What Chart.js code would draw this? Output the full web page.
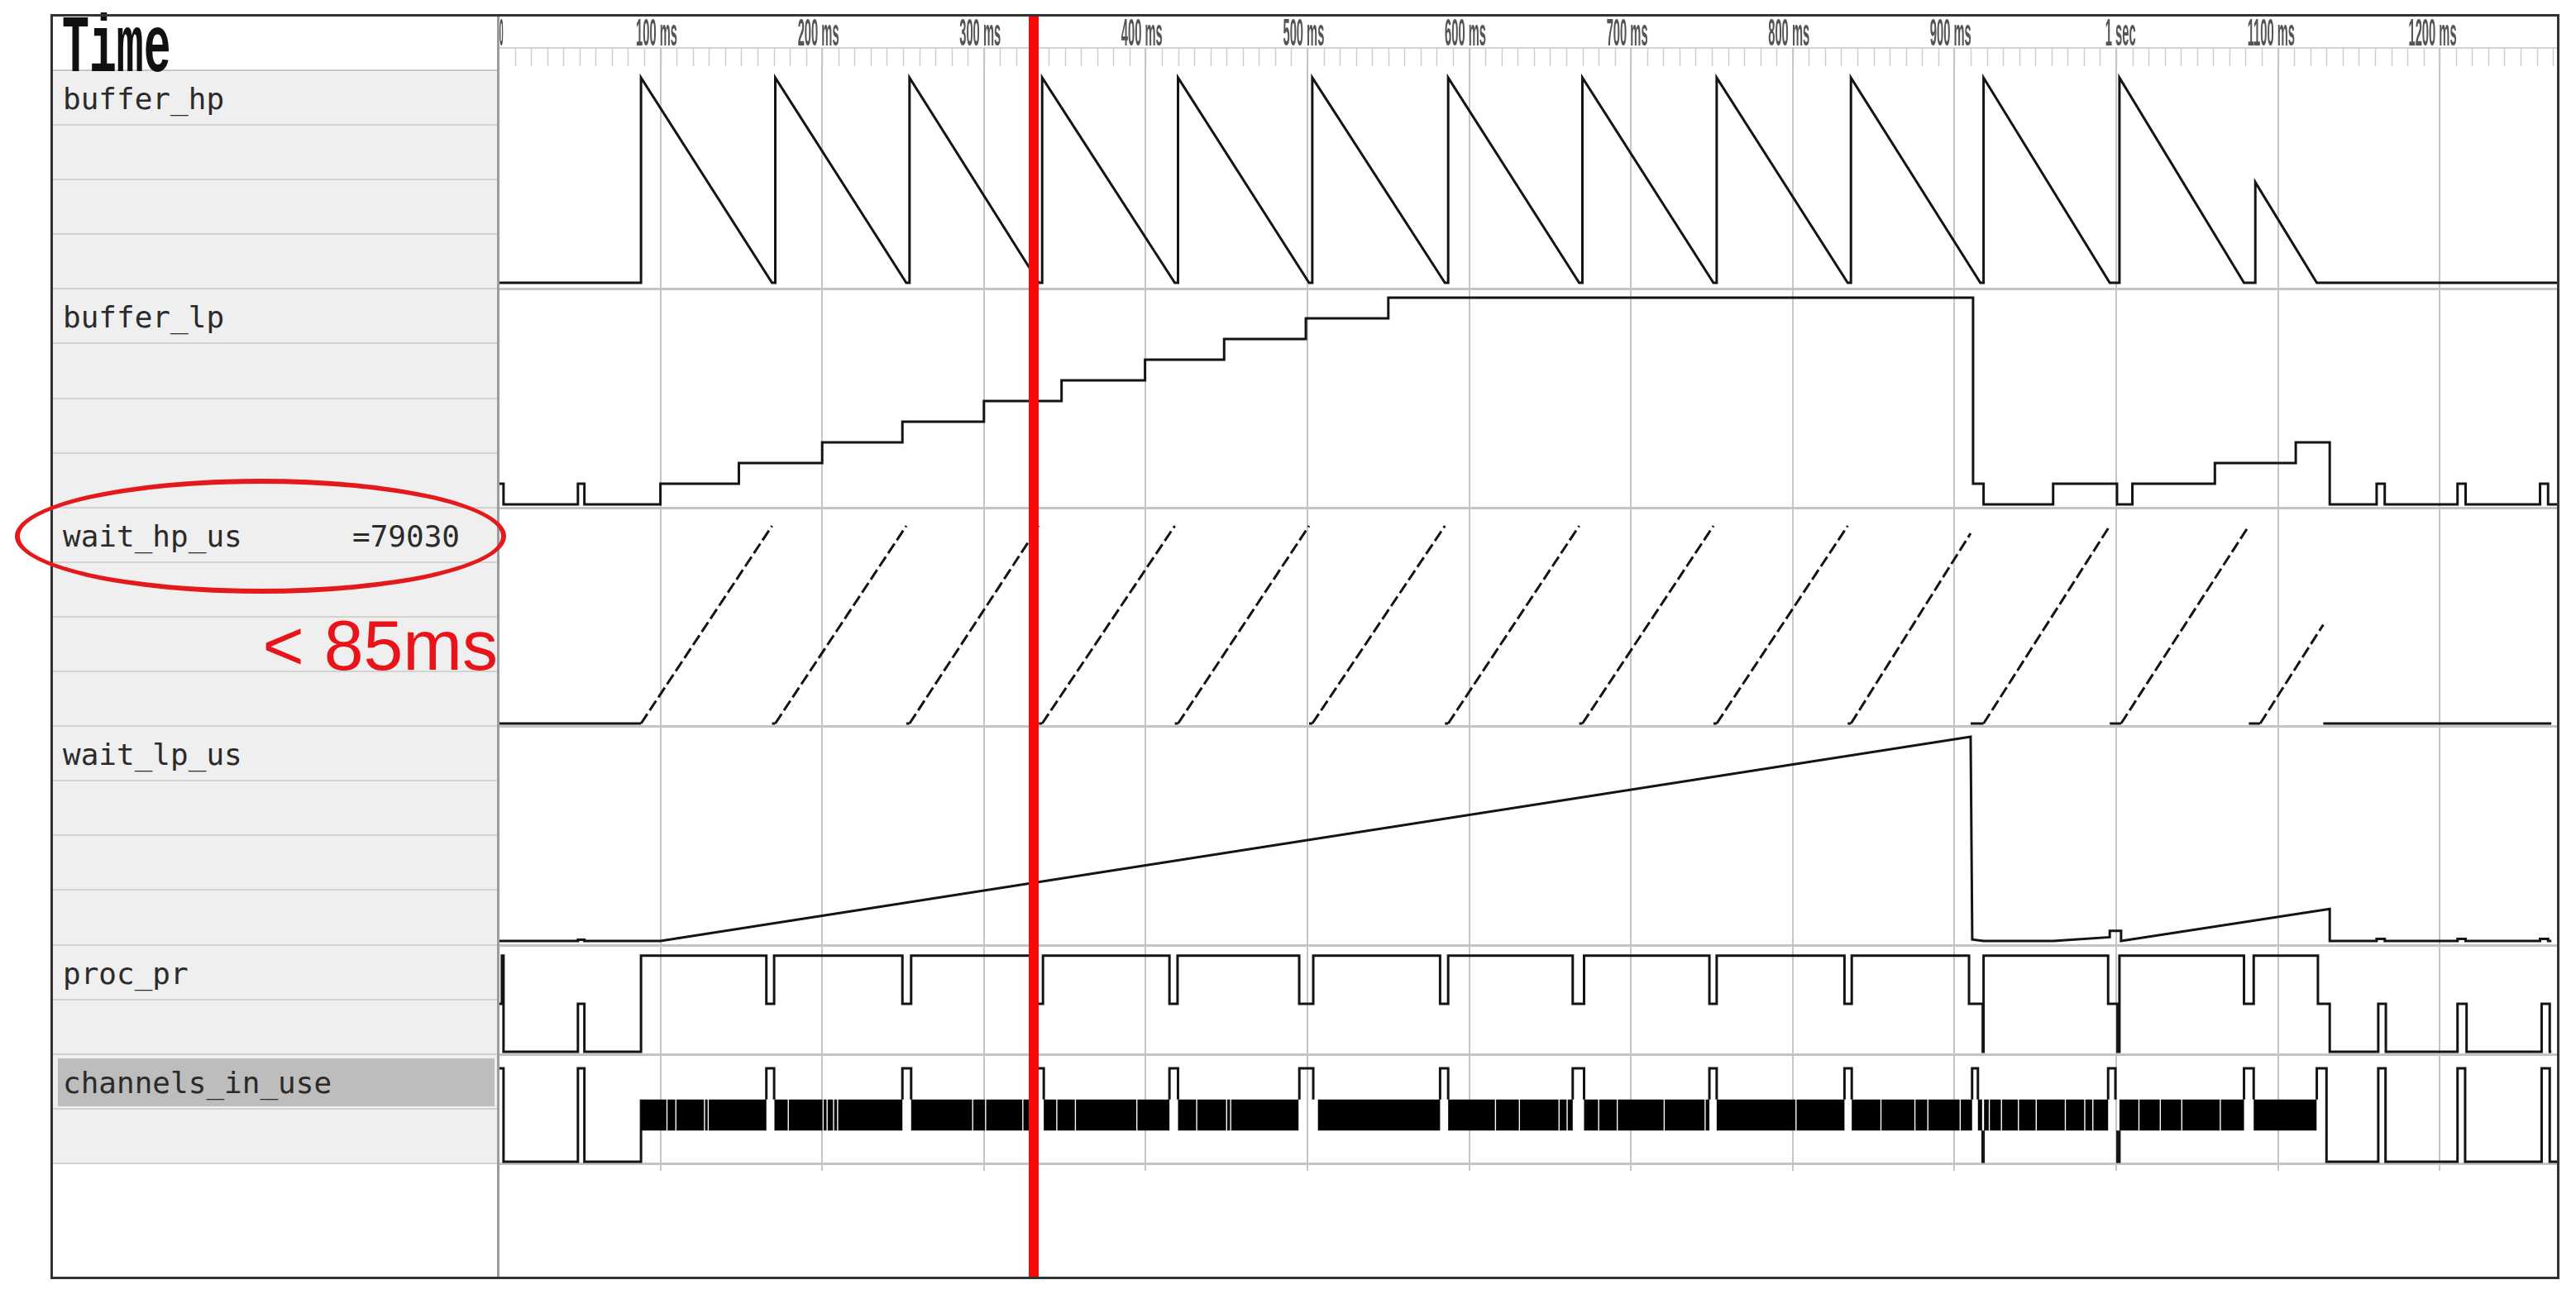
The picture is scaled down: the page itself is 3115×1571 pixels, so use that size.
<!DOCTYPE html>
<html>
<head>
<meta charset="utf-8">
<script src="https://cdn.jsdelivr.net/npm/chart.js@4.4.1/dist/chart.umd.min.js"></script>
<style>
  html, body { margin: 0; padding: 0; background: #fff; }
  body { width: 3115px; height: 1571px; position: relative; overflow: hidden; }
  #frame { position: absolute; left: 61px; top: 17px; width: 3034px; height: 1530px;
           box-sizing: border-box; border: 3px solid #333; z-index: 5; pointer-events: none; }
  #names { position: absolute; left: 64px; top: 86px; width: 538px; height: 1322px; background: #efefef; }
  .sub { height: 66.1px; box-sizing: border-box; border-bottom: 2px solid #d2d2d2; }
  #timeRow { position: absolute; left: 64px; top: 84px; width: 538px; height: 2px; background: #c8c8c8; }
  .lbl { position: absolute; left: 76px; font-family: "DejaVu Sans Mono", monospace; font-size: 36px;
         line-height: 1; color: #2b2b2b; white-space: pre; z-index: 3; }
  #hilite { position: absolute; left: 70px; top: 1280px; width: 528px; height: 58px; background: #bdbdbd; z-index: 2; }
  #timeLbl { position: absolute; left: 75px; top: 11px; font-family: "Liberation Mono", monospace; font-weight: bold;
             font-size: 98px; line-height: 1; color: #111; transform: scaleX(0.56); transform-origin: 0 0; }
  #divider { position: absolute; left: 601px; top: 18px; width: 3px; height: 1527px; background: #9c9c9c; z-index: 4; }
  #plot { position: absolute; left: 603px; top: 18px; width: 2490px; height: 1527px; }
  #ellipse { position: absolute; left: 18px; top: 579px; width: 594px; height: 139px; box-sizing: border-box;
             border: 6px solid #e3191b; border-radius: 50%; z-index: 6; }
  #note { position: absolute; left: 250px; width: 352px; top: 737px; text-align: right; font-family: "Liberation Sans", Arial, sans-serif;
          font-size: 86px; line-height: 1; color: #e8141a; z-index: 6; }
</style>
</head>
<body>
<div id="names"></div>
<div id="timeRow"></div>
<div id="hilite"></div>
<div id="timeLbl">Time</div>
<div id="divider"></div>
<div id="plot"><canvas id="chart"></canvas></div>
<div id="ellipse"></div>
<div id="note">&lt; 85ms</div>
<div id="frame"></div>
<script>
// time axis, ms
const timeMax = 1273;
const cursorMs = 331;
const rulerTicks = [100, 200, 300, 400, 500, 600, 700, 800, 900, 1000, 1100, 1200];
const rulerLabels = ['100 ms', '200 ms', '300 ms', '400 ms', '500 ms', '600 ms', '700 ms', '800 ms', '900 ms', '1 sec', '1100 ms', '1200 ms'];

// signal names and how many 66px sub rows each one takes
const signalNames = ['buffer_hp', 'buffer_lp', 'wait_hp_us', 'wait_lp_us', 'proc_pr', 'channels_in_use'];
const signalRows = [4, 4, 4, 4, 2, 2];
const cursorValue = '=79030';   // value of wait_hp_us at the cursor

// buffer_hp: sawtooth vertices [ms, fill %]
const bufferHp = [[0, 0], [88, 0], [88, 100], [169, 0], [171, 0], [171, 100], [252, 0], [254, 0], [254, 100],
  [334, 0], [336, 0], [336, 100], [418, 0], [420, 0], [420, 100], [501, 0], [503, 0], [503, 100],
  [585, 0], [587, 0], [587, 100], [668, 0], [670, 0], [670, 100], [751, 0], [753, 0], [753, 100],
  [834, 0], [836, 0], [836, 100], [916, 0], [918, 0], [918, 100], [996, 0], [1002, 0], [1002, 100],
  [1079, 0], [1086, 0], [1086, 49], [1124, 0], [1273, 0]];

// buffer_lp: level changes [ms, level]
const bufferLp = [[0, 1], [3, 0], [49, 1], [53, 0], [100, 1], [148.5, 2], [200, 3], [249.6, 4], [300, 5],
  [348, 6], [399.6, 7], [448.5, 8], [499, 9], [550, 10], [911.5, 1], [918, 0], [961, 1], [1000.5, 0],
  [1010, 1], [1061, 2], [1111, 3], [1132, 0], [1161, 1], [1166, 0], [1211, 1], [1216, 0], [1262, 1],
  [1267, 0], [1273, 0]];

// wait_hp_us: ramp vertices [ms, us]
const waitHp = [[0, 0], [88, 0], [169, 80000], [169, 0], [171, 0], [252, 80000], [252, 0], [254, 0],
  [334, 80000], [334, 0], [336, 0], [418, 80000], [418, 0], [420, 0], [501, 80000], [501, 0], [503, 0],
  [585, 80000], [585, 0], [587, 0], [668, 80000], [668, 0], [670, 0], [751, 80000], [751, 0], [753, 0],
  [834, 80000], [834, 0], [836, 0], [910, 77000], [910, 0], [918, 0], [996, 80000], [996, 0], [1003, 0],
  [1082, 80000], [1082, 0], [1089, 0], [1128, 40000], [1128, 0], [1269, 0]];

// wait_lp_us: vertices [ms, us]
const waitLp = [[0, 0], [49, 0], [49, 5000], [53, 5000], [53, 0], [100, 0], [910, 810000], [911, 6000],
  [918, 0], [961, 0], [996, 15000], [996, 40000], [1003, 40000], [1003, 0], [1132, 127000], [1132, 0],
  [1161, 0], [1161, 8000], [1166, 8000], [1166, 0], [1211, 0], [1211, 8000], [1216, 8000], [1216, 0],
  [1262, 0], [1262, 8000], [1267, 8000], [1267, 0], [1269, 0]];

// proc_pr: state changes [ms, state] 0 low, 1 mid, 2 high
const procPr = [[0, 1], [2, 2], [3, 0], [49, 1], [53, 0], [88, 2], [165.5, 1], [170.3, 2], [249.6, 1], [255, 2],
  [333, 1], [336.5, 2], [414.7, 1], [419.7, 2], [494.9, 1], [503.6, 2], [582, 1], [587, 2], [664, 1], [671, 2],
  [748.5, 1], [753, 2], [832, 1], [836.5, 2], [909, 1], [917.5, 0], [918, 2], [995, 1], [1000.8, 0], [1002, 2],
  [1079, 1], [1085, 2], [1124.7, 1], [1132, 0], [1162, 1], [1166.7, 0], [1211, 1], [1216.6, 0], [1263, 1],
  [1268, 0], [1269, 0]];

// channels_in_use: toggles fast between 1 and 2 from 88 to 1124 ms (drawn as a solid band)
const channelsBand = [88, 1124];
// thin white lines inside the band, and the wider openings where it spikes
const channelsGaps = [[103.7, 104.4], [109.2, 109.9], [126.9, 127.6], [129.2, 129.9], [165.5, 170.5],
  [178.7, 179.4], [200.2, 200.9], [202.7, 203.4], [206.7, 207.4], [209.2, 209.9], [249.6, 255],
  [292.7, 293.4], [300.7, 301.4], [323.7, 324.4], [333, 337], [344.7, 345.4], [356.2, 356.9], [394.2, 394.9],
  [414.7, 420], [431.2, 431.9], [449.7, 450.4], [452.2, 452.9], [494.5, 506.5], [582, 587], [615.9, 616.6],
  [630.7, 631.4], [655.2, 655.9], [660.2, 660.9], [664, 671], [679.7, 680.4], [691.2, 691.9], [720.2, 720.9],
  [745.5, 746.2], [748.5, 753], [801.7, 802.4], [832, 836.5], [854.2, 854.9], [875.2, 875.9], [883.2, 883.9],
  [903.2, 903.9], [910.9, 914.5], [917.1, 918.3], [921.2, 921.9], [928.7, 929.4], [939.2, 939.9], [950.2, 950.9],
  [968.2, 968.9], [980.2, 980.9], [985.2, 985.9], [995, 1002], [1013.7, 1014.4], [1026.9, 1027.6],
  [1040.2, 1040.9], [1064, 1064.7], [1079, 1085]];
// spikes up to 3 out of the band
const channelsSpikes = [[165.5, 170.3], [249.6, 255], [333, 337], [414.7, 420], [495, 503.6], [582, 587],
  [664, 671], [748.5, 753], [832, 836.5], [910.9, 914.5], [995, 999.5], [1079, 1085]];
const channelsDrops = [[917.4, 918], [1000.8, 1002]];
const channelsHead = [[0, 3], [3, 0], [49, 3], [53, 0], [88, 2]];
const channelsTail = [[1124, 2], [1124, 3], [1130, 0], [1162, 3], [1166.5, 0], [1211, 3], [1215.7, 0],
  [1263, 3], [1268, 0], [1273, 0]];

// ---- left name column ----
const names = document.getElementById('names');
let subTotal = 0;
signalRows.forEach((n, i) => {
  for (let k = 0; k < n; k++) {
    const d = document.createElement('div');
    d.className = 'sub';
    names.appendChild(d);
  }
  const lbl = document.createElement('div');
  lbl.className = 'lbl';
  lbl.style.top = (86 + subTotal * 66.1 + 16) + 'px';
  lbl.textContent = signalNames[i];
  document.body.appendChild(lbl);
  if (signalNames[i] === 'wait_hp_us') {
    const v = document.createElement('div');
    v.className = 'lbl';
    v.style.left = '426px';
    v.style.top = lbl.style.top;
    v.textContent = cursorValue;
    document.body.appendChild(v);
  }
  subTotal += n;
});

// ---- chart data ----
const pts = (arr) => arr.map(p => ({ x: p[0], y: p[1] }));

const bandPts = [{ x: channelsBand[0], y: 2 }];
channelsGaps.forEach(g => { bandPts.push({ x: g[0], y: 1 }); bandPts.push({ x: g[1], y: 2 }); });
bandPts.push({ x: channelsBand[1], y: 1 });

const tracePts = pts(channelsHead);
tracePts.push({ x: channelsHead[channelsHead.length - 1][0] + 0.1, y: null });
channelsSpikes.forEach(s => {
  tracePts.push({ x: s[0], y: 2 }, { x: s[0], y: 3 }, { x: s[1], y: 2 }, { x: s[1] + 0.05, y: null });
});
channelsDrops.forEach(s => {
  tracePts.push({ x: s[0], y: 1 }, { x: s[0], y: 0 }, { x: s[1], y: 1 }, { x: s[1] + 0.05, y: null });
});
tracePts.sort((a, b) => a.x - b.x);
tracePts.push(...pts(channelsTail));

const lineStyle = {
  borderColor: '#141414', borderWidth: 3, pointRadius: 0, tension: 0, fill: false,
  borderJoinStyle: 'miter', borderCapStyle: 'butt'
};

const ink = 'rgba(0,0,0,0)';
const datasets = [
  { label: 'buffer_hp', data: pts(bufferHp), yAxisID: 'yBufHp', ...lineStyle },
  { label: 'buffer_lp', data: pts(bufferLp), yAxisID: 'yBufLp', stepped: true, ...lineStyle },
  { label: 'wait_hp_us', data: pts(waitHp), yAxisID: 'yWaitHp', ...lineStyle,
    segment: {
      borderColor: c => (c.p0.parsed.x === c.p1.parsed.x && c.p1.parsed.y < c.p0.parsed.y) ? ink : undefined,
      borderDash: c => (c.p1.parsed.y > c.p0.parsed.y) ? [14, 5] : undefined
    } },
  { label: 'wait_lp_us', data: pts(waitLp), yAxisID: 'yWaitLp', ...lineStyle },
  { label: 'proc_pr', data: pts(procPr), yAxisID: 'yProc', stepped: true, ...lineStyle },
  { label: 'channels_band', data: bandPts, yAxisID: 'yChan', stepped: true, pointRadius: 0,
    borderWidth: 0, borderColor: '#000', backgroundColor: '#000', fill: { value: 1 } },
  { label: 'channels_in_use', data: tracePts, yAxisID: 'yChan', stepped: true, ...lineStyle }
];

const rowScale = (weight, rows, min, max) => ({
  type: 'linear', display: false, position: 'left', stack: 'rows', stackWeight: rows, weight: weight,
  min: min, max: max, grid: { display: false }
});

// grid, row separators, time ruler and the red cursor
const wavePlugin = {
  id: 'wave',
  beforeDatasetsDraw(chart) {
    const ctx = chart.ctx;
    const xs = chart.scales.x;
    const area = chart.chartArea;
    ctx.save();
    // ruler base line and 10 ms ticks
    ctx.fillStyle = '#d3d3d3';
    ctx.fillRect(0, 39, chart.width, 2);
    ctx.strokeStyle = '#cdcdcd';
    ctx.lineWidth = 1.5;
    for (let t = 10; t < timeMax; t += 10) {
      const x = Math.round(xs.getPixelForValue(t)) + 0.5;
      ctx.beginPath(); ctx.moveTo(x, 41); ctx.lineTo(x, 62); ctx.stroke();
    }
    // 100 ms grid
    ctx.strokeStyle = '#c6c6c6';
    ctx.lineWidth = 2;
    rulerTicks.forEach(t => {
      const x = Math.round(xs.getPixelForValue(t));
      ctx.beginPath(); ctx.moveTo(x, 40); ctx.lineTo(x, area.bottom + 8); ctx.stroke();
    });
    // row separators
    ctx.fillStyle = '#c4c4c4';
    Object.values(chart.scales).forEach(s => {
      if (s.axis === 'y') ctx.fillRect(0, Math.round(s.bottom) - 2, chart.width, 3);
    });
    // ruler labels, drawn narrow
    ctx.fillStyle = '#555';
    ctx.font = 'bold 46px "Liberation Sans", Arial, sans-serif';
    ctx.textBaseline = 'alphabetic';
    const squeeze = 0.32;
    rulerTicks.forEach((t, i) => {
      const x = xs.getPixelForValue(t);
      const label = rulerLabels[i];
      const head = label.split(' ')[0];
      const w = ctx.measureText(head).width * squeeze;
      ctx.save();
      ctx.translate(x - w - 5, 37);
      ctx.scale(squeeze, 1);
      ctx.fillText(label, 0, 0);
      ctx.restore();
    });
    ctx.save();
    ctx.translate(1, 37);
    ctx.scale(0.18, 1);
    ctx.fillStyle = '#444';
    ctx.fillText('0', 0, 0);
    ctx.restore();
    ctx.restore();
  },
  afterDraw(chart) {
    const ctx = chart.ctx;
    const x = chart.scales.x.getPixelForValue(cursorMs);
    ctx.save();
    ctx.fillStyle = '#f50a0a';
    ctx.fillRect(Math.round(x) - 6, 0, 12, chart.height);
    ctx.restore();
  }
};

new Chart(document.getElementById('chart'), {
  type: 'line',
  data: { datasets: datasets },
  options: {
    responsive: true,
    maintainAspectRatio: false,
    animation: false,
    events: [],
    parsing: true,
    layout: { padding: { top: 68, bottom: 137, left: 0, right: 0 } },
    plugins: { legend: { display: false }, tooltip: { enabled: false }, title: { display: false } },
    scales: {
      x: { type: 'linear', min: 0, max: timeMax, display: false },
      yBufHp: rowScale(6, 4, -3.4, 103.2),
      yBufLp: rowScale(5, 4, -0.19, 10.38),
      yWaitHp: rowScale(4, 4, -1400, 87100),
      yWaitLp: rowScale(3, 4, -18400, 848700),
      yProc: rowScale(2, 2, -0.066, 2.21),
      yChan: rowScale(1, 2, -0.08, 3.43)
    }
  },
  plugins: [wavePlugin]
});
</script>
</body>
</html>
